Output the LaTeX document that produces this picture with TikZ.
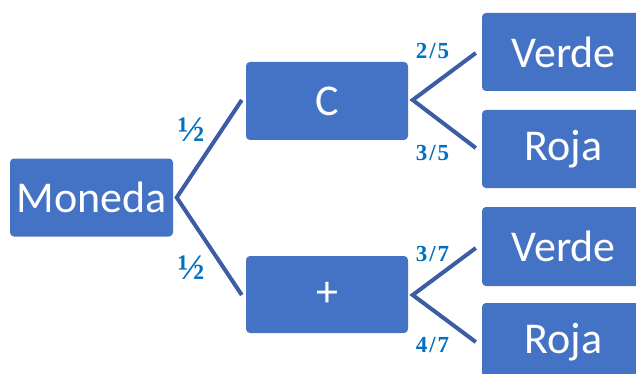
\documentclass[tikz,border=0pt]{standalone}
\usepackage{fontspec}
\setmainfont{Carlito}
\newfontfamily\probfont{Liberation Serif}
\usetikzlibrary{calc}
\definecolor{boxblue}{HTML}{4472C4}
\definecolor{branchblue}{HTML}{3C5DA5}
\definecolor{probblue}{HTML}{0070C0}
\tikzset{
  event/.style={fill=boxblue, rounded corners=4pt, text=white,
    minimum width=163pt, minimum height=78pt, inner sep=0pt,
    font=\fontsize{44}{44}\selectfont},
  branch/.style={draw=branchblue, line width=4pt, line join=miter, line cap=butt},
  prob/.style={text=probblue, inner sep=0pt, font=\probfont\bfseries\fontsize{23}{23}\selectfont},
  half/.style={prob, font=\probfont\bfseries\fontsize{36}{36}\selectfont}
}
\newcommand{\frc}[2]{#1\kern2pt/\kern2pt#2}
\begin{document}
\begin{tikzpicture}[x=1pt,y=-1pt]
  \useasboundingbox (0,0) rectangle (636,374);
  \clip (0,0) rectangle (636,374);
  % outcome boxes
  \node[event] (moneda) at (91.5,197.5) {Moneda};
  \node[event, minimum width=162pt] (cara) at (327,101) {C};
  \node[event, minimum width=162pt, minimum height=77pt] (cruz) at (327,294.5) {+};
  \node[event] (v1) at (563.5,52) {Verde};
  \node[event] (r1) at (563.5,149) {Roja};
  \node[event, minimum height=79pt] (v2) at (563.5,246.5) {Verde};
  \node[event, minimum height=79pt] (r2) at (563.5,342.5) {Roja};
  % branches
  \draw[branch] ($(cara.west)+(-4,-1)$) -- ($(moneda.east)+(3.5,0)$) -- ($(cruz.west)+(-4,0.5)$);
  \draw[branch] ($(v1.west)+(-6,1)$) -- ($(cara.east)+(4.5,-1)$) -- ($(r1.west)+(-6,-1)$);
  \draw[branch] ($(v2.west)+(-6,1.5)$) -- ($(cruz.east)+(4.5,0.5)$) -- ($(r2.west)+(-6,-0.5)$);
  % probabilities
  \node[half] (p1) at (191,130) {½};
  \node[half] (p2) at (191,268) {½};
  \node[prob] (p3) at (432.5,51.5) {\frc{2}{5}};
  \node[prob] (p4) at (432.5,153) {\frc{3}{5}};
  \node[prob] (p5) at (432.5,253.5) {\frc{3}{7}};
  \node[prob] (p6) at (432.5,345) {\frc{4}{7}};
\end{tikzpicture}
\end{document}
